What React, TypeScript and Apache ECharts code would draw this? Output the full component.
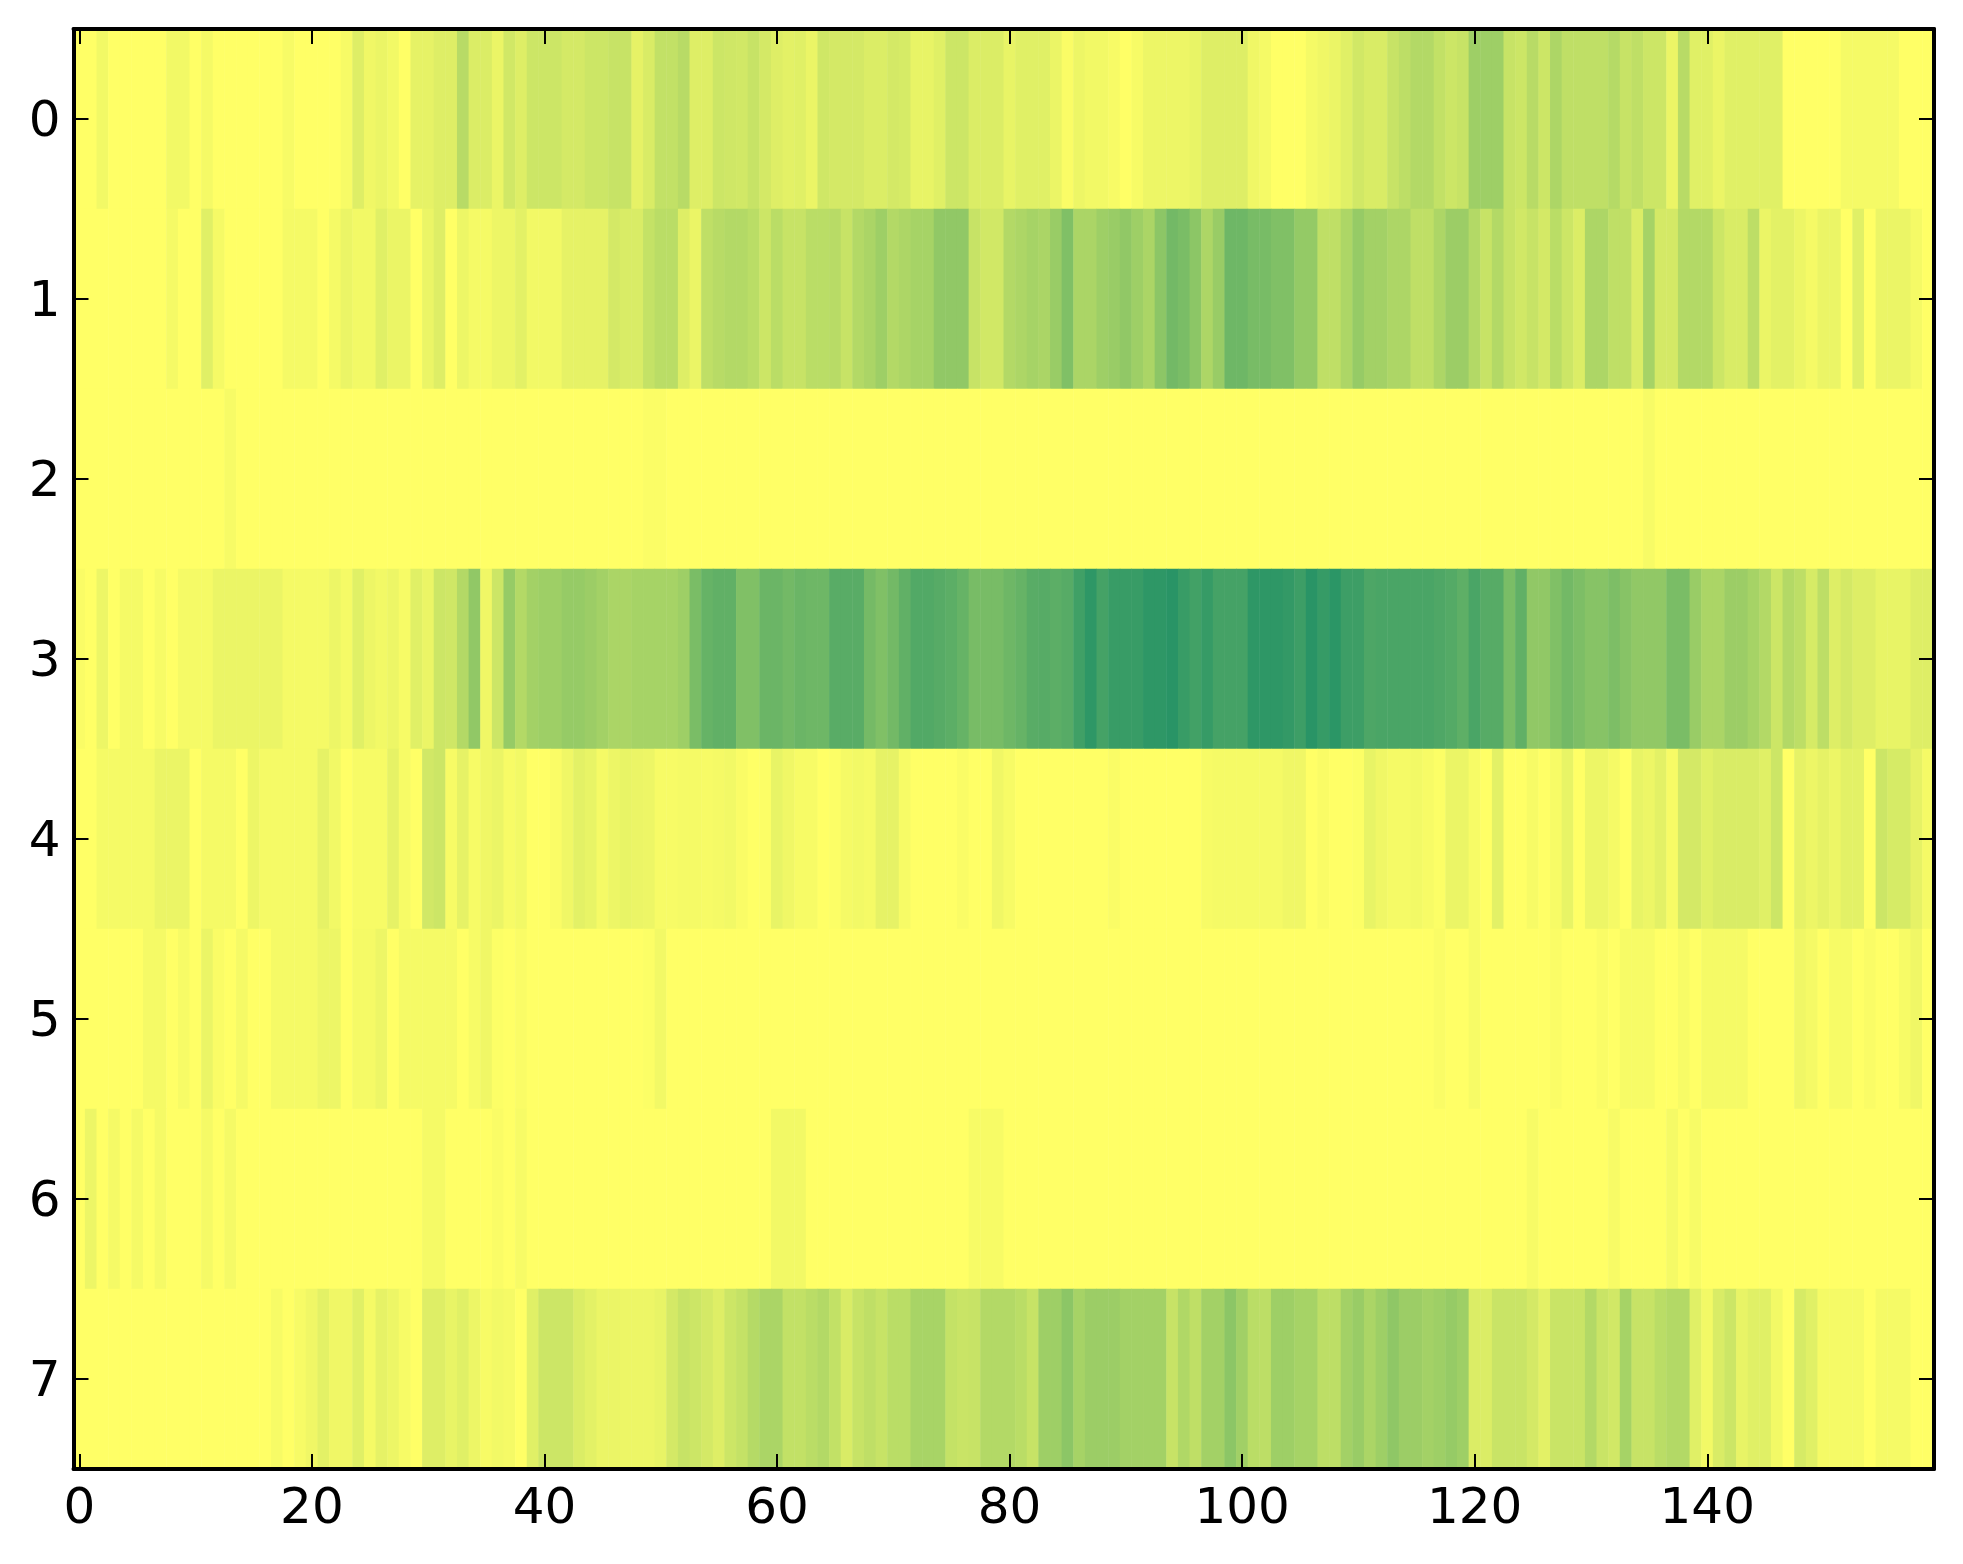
import React, { useEffect, useRef } from "react";
import * as echarts from "echarts";

const xCategories: string[] = Array.from({ length: 160 }, (_, i) => String(i));
const yCategories = ["0", "1", "2", "3", "4", "5", "6", "7"];

const row0 = [
  0,0,.05,0,0,0,0,0,.05,.05,
  0,.04,0,0,0,0,0,0,.03,0,
  0,0,0,.03,.13,.06,.08,.05,0,.1,
  .1,.13,.13,.28,.14,.14,.08,.18,.13,.2,
  .2,.2,.17,.17,.2,.2,.22,.22,.1,.15,
  .24,.24,.28,.13,.13,.2,.19,.18,.22,.17,
  .13,.11,.12,.08,.19,.17,.17,.17,.14,.14,
  .17,.16,.09,.09,.12,.2,.2,.14,.14,.14,
  .09,.12,.12,.12,.08,.02,.07,.05,.05,.03,
  0,.03,.07,.07,.07,.07,.09,.13,.13,.13,
  .13,.06,.04,0,0,0,.04,.06,.08,.12,
  .18,.15,.15,.22,.26,.3,.3,.24,.2,.22,
  .38,.38,.38,.22,.2,.28,.2,.32,.25,.25,
  .25,.25,.29,.22,.25,.2,.2,.08,.28,.12,
  .12,.08,.12,.12,.12,.12,.12,0,0,0,
  0,0,.04,.04,.04,.04,.04,0,0,0,
];
const row1 = [
  0,0,0,0,0,0,0,0,.04,0,
  0,.12,.04,0,0,0,0,0,.04,.04,
  .04,0,.04,.08,.05,.05,.12,.08,.08,0,
  .08,.13,0,.07,.04,.04,.07,.07,.11,.05,
  .05,.05,.1,.1,.1,.1,.17,.15,.15,.23,
  .27,.27,.13,.08,.25,.28,.3,.3,.27,.2,
  .27,.22,.22,.27,.27,.28,.22,.3,.33,.38,
  .3,.32,.35,.35,.43,.43,.43,.22,.18,.18,
  .3,.32,.35,.33,.4,.5,.33,.33,.38,.4,
  .43,.38,.33,.45,.55,.52,.45,.32,.4,.57,
  .57,.53,.53,.5,.5,.42,.42,.25,.25,.32,
  .41,.36,.36,.32,.32,.25,.25,.32,.39,.39,
  .3,.22,.3,.22,.18,.22,.17,.27,.2,.14,
  .32,.32,.25,.25,.14,.35,.17,.17,.3,.3,
  .3,.2,.15,.15,.26,.08,.11,.11,.07,.04,
  .08,.08,0,.12,0,.08,.08,.08,.04,0,
];
const row2 = [
  0,0,0,0,0,0,0,0,0,0,
  0,0,0,.03,0,0,0,0,0,0,
  0,0,0,0,0,0,0,0,0,0,
  0,0,0,0,0,0,0,0,0,0,
  0,0,0,0,0,0,0,0,0,.015,
  .015,0,0,0,0,0,0,0,0,0,
  0,0,0,0,0,0,0,0,0,0,
  0,0,0,0,0,0,0,0,0,0,
  0,0,0,0,0,0,0,0,0,0,
  0,0,0,0,0,0,0,0,0,0,
  0,0,0,0,0,0,0,0,0,0,
  0,0,0,0,0,0,0,0,0,0,
  0,0,0,0,0,0,0,0,0,0,
  0,0,0,0,0,.03,0,0,0,0,
  0,0,0,0,0,0,0,0,0,0,
  0,0,0,0,0,0,0,0,0,0,
];
const row3 = [
  .02,0,.07,0,.04,.04,0,.03,0,.04,
  .04,.04,.08,.08,.08,.08,.08,.08,.04,.04,
  .04,.04,.07,.04,.12,.07,.05,.07,.03,.12,
  .08,.2,.19,.3,.43,.06,.2,.41,.3,.36,
  .38,.38,.41,.41,.39,.36,.33,.33,.35,.35,
  .35,.35,.38,.52,.6,.62,.62,.5,.5,.58,
  .58,.55,.58,.57,.57,.65,.65,.65,.54,.5,
  .55,.62,.68,.68,.66,.64,.6,.53,.53,.53,
  .57,.6,.65,.66,.64,.66,.75,.82,.73,.78,
  .78,.78,.82,.82,.84,.78,.74,.79,.73,.73,
  .73,.82,.82,.82,.8,.76,.84,.79,.83,.76,
  .76,.7,.71,.71,.71,.71,.71,.69,.67,.63,
  .71,.66,.66,.52,.62,.43,.43,.5,.55,.51,
  .47,.47,.51,.47,.43,.43,.43,.52,.52,.4,
  .33,.33,.39,.39,.35,.3,.2,.3,.26,.16,
  .26,.13,.17,.13,.13,.09,.09,.09,.13,.13,
];
const row4 = [
  0,0,.04,.04,.04,.04,.04,.08,.08,.08,
  0,.04,.04,.04,0,.07,.04,.04,.04,.04,
  .04,.1,.05,0,.03,.03,.03,.1,.03,0,
  .18,.2,.03,.1,.03,.06,.08,.03,.05,0,
  0,.02,.06,.11,.09,.04,.07,.09,.08,.07,
  .03,.03,.04,.04,.03,.04,.05,.02,0,.01,
  .09,.06,.03,.03,0,.01,.04,.05,.04,.1,
  .1,.03,0,0,0,0,.02,0,0,.06,
  .03,0,0,0,0,0,0,0,0,.02,
  0,0,0,0,0,0,0,.03,.04,.04,
  .04,.04,.04,.04,.06,.06,0,.02,0,0,
  .01,.09,.06,.04,.04,.05,.03,.01,.08,.08,
  .03,0,.11,0,0,.03,0,.03,.09,0,
  .07,.07,.04,0,.09,.07,.11,.03,.17,.17,
  .12,.15,.15,.15,.15,.12,.2,0,.1,.07,
  .1,.07,.11,.11,0,.2,.16,.16,.1,.04,
];
const row5 = [
  0,0,0,0,0,0,.04,.04,0,.03,
  0,.08,.02,0,.04,0,0,.04,.04,.04,
  .04,.07,.07,0,.04,.04,.07,0,.04,.04,
  .04,.04,.04,0,.03,.06,.01,0,.02,0,
  0,0,0,0,0,0,0,0,0,.01,
  .05,0,0,0,0,0,0,0,0,0,
  0,0,0,0,0,0,0,0,0,0,
  0,0,0,0,0,0,0,0,0,0,
  0,0,0,0,0,0,0,0,0,0,
  0,0,0,0,0,0,0,0,0,0,
  0,0,0,0,0,0,0,0,0,0,
  0,0,0,0,0,0,0,.02,0,0,
  .03,0,0,0,0,0,0,.02,0,0,
  0,.02,0,.03,.03,.03,0,0,.03,0,
  .04,.04,.04,.04,0,0,0,0,.06,.04,
  0,.03,.03,0,.02,0,0,.03,.06,0,
];
const row6 = [
  0,.07,0,.04,0,.04,0,.04,0,0,
  0,.04,0,.04,0,0,0,0,0,0,
  0,0,0,0,0,0,0,0,0,0,
  .04,.04,0,0,0,0,.02,0,.03,0,
  0,0,0,0,0,0,0,0,0,0,
  0,0,0,0,0,0,0,0,0,0,
  .05,.05,.05,0,0,0,0,0,0,0,
  0,0,0,0,0,0,0,.03,.03,.03,
  0,0,0,0,0,0,0,0,0,0,
  0,0,0,0,0,0,0,0,0,0,
  0,0,0,0,0,0,0,0,0,0,
  0,0,0,0,0,0,0,0,0,0,
  0,0,0,0,0,.03,0,0,0,0,
  0,0,.03,0,0,0,0,.04,0,.03,
  0,0,0,0,0,0,0,0,0,0,
  0,0,0,0,0,0,0,0,0,0,
];
const row7 = [
  0,0,0,0,0,0,0,0,0,0,
  0,0,0,0,0,0,0,.03,0,.03,
  .06,.11,.06,.06,.12,.04,.1,.07,.03,0,
  .13,.13,.09,.12,.07,.03,.05,.04,0,.12,
  .2,.2,.2,.14,.11,.08,.08,.07,.07,.07,
  .09,.17,.22,.2,.17,.13,.2,.23,.29,.33,
  .33,.24,.24,.27,.3,.24,.15,.22,.25,.22,
  .27,.27,.34,.34,.34,.23,.21,.22,.3,.3,
  .3,.27,.22,.38,.38,.45,.35,.39,.39,.39,
  .36,.36,.36,.36,.22,.31,.25,.36,.36,.45,
  .37,.27,.26,.38,.38,.35,.35,.26,.26,.36,
  .4,.33,.38,.44,.39,.39,.36,.38,.41,.38,
  .14,.14,.21,.21,.21,.17,.11,.21,.21,.21,
  .3,.21,.18,.35,.22,.22,.27,.3,.3,.12,
  .05,.15,.2,.09,.12,.12,.05,0,.16,.12,
  .04,.04,.04,.04,0,.04,.04,.04,0,0,
];
const rows = [row0, row1, row2, row3, row4, row5, row6, row7];

const everyTwenty = (i: number) => i % 20 === 0;

export default function App() {
  const ref = useRef<HTMLDivElement>(null);
  useEffect(() => {
    const chart = echarts.init(ref.current!, null, { renderer: "svg" });
    const data: number[][] = [];
    rows.forEach((r, y) => r.forEach((v, x) => data.push([x, y, v])));
    const line = { show: true, onZero: false, lineStyle: { color: "#000", width: 4 } };
    const font = { color: "#000", fontFamily: "DejaVu Sans", fontSize: 50 };
    const tickX = { show: true, inside: true, length: 15, interval: everyTwenty, alignWithLabel: true, lineStyle: { color: "#000", width: 2 } };
    const tickY = { show: true, inside: true, length: 15, alignWithLabel: true, lineStyle: { color: "#000", width: 2 } };
    chart.setOption({
      animation: false,
      backgroundColor: "#fff",
      grid: { left: 73.5, right: 29, top: 29, bottom: 95, containLabel: false },
      visualMap: {
        show: false,
        min: 0,
        max: 1,
        dimension: 2,
        seriesIndex: 0,
        inRange: { color: ["#ffff66", "#008066"] },
      },
      xAxis: [
        {
          type: "category",
          data: xCategories,
          position: "bottom",
          z: 5,
          axisLine: line,
          axisTick: tickX,
          axisLabel: { ...font, interval: everyTwenty, margin: 12, hideOverlap: false },
          splitLine: { show: false },
          splitArea: { show: false },
        },
        {
          type: "category",
          data: xCategories,
          position: "top",
          z: 5,
          axisLine: line,
          axisTick: tickX,
          axisLabel: { show: false },
          splitLine: { show: false },
          splitArea: { show: false },
        },
      ],
      yAxis: [
        {
          type: "category",
          data: yCategories,
          inverse: true,
          position: "left",
          z: 5,
          axisLine: line,
          axisTick: tickY,
          axisLabel: { ...font, margin: 13, interval: 0, padding: [0, 0, 14, 0] },
          splitLine: { show: false },
          splitArea: { show: false },
        },
        {
          type: "category",
          data: yCategories,
          inverse: true,
          position: "right",
          z: 5,
          axisLine: line,
          axisTick: tickY,
          axisLabel: { show: false },
          splitLine: { show: false },
          splitArea: { show: false },
        },
      ],
      series: [
        {
          type: "heatmap",
          xAxisIndex: 0,
          yAxisIndex: 0,
          data,
          progressive: 0,
          itemStyle: { borderWidth: 0 },
          emphasis: { disabled: true },
        },
      ],
    });
    return () => chart.dispose();
  }, []);
  return (
    <div
      ref={ref}
      style={{ position: "absolute", left: 0, top: 0, width: 1963, height: 1564, background: "#fff" }}
    />
  );
}
